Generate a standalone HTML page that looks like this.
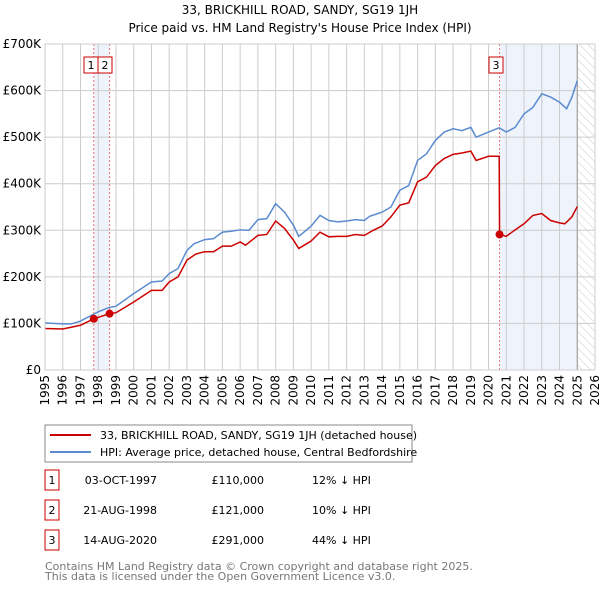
<!DOCTYPE html>
<html><head><meta charset="utf-8"><style>
body{margin:0;background:#fff;font-family:"DejaVu Sans","Liberation Sans",sans-serif;}
#wrap{position:relative;width:600px;height:590px;overflow:hidden}
</style></head><body>
<div id="wrap">
<svg id="svg" width="600" height="590" xmlns="http://www.w3.org/2000/svg" font-family="DejaVu Sans, Liberation Sans, sans-serif">
<defs><pattern id="hatch" width="6" height="6" patternUnits="userSpaceOnUse" patternTransform="rotate(-45)"><line x1="0" y1="0" x2="0" y2="6" stroke="#ccc" stroke-width="1"/></pattern></defs>
<text x="300" y="14" text-anchor="middle" font-size="12">33, BRICKHILL ROAD, SANDY, SG19 1JH</text>
<text x="300" y="32" text-anchor="middle" font-size="12">Price paid vs. HM Land Registry's House Price Index (HPI)</text>
<g id="grid"></g><g id="marks"></g><g id="axes"></g>
<rect x="45" y="425" width="367" height="37" fill="#fff" stroke="#888"/>
<line x1="50" y1="435" x2="91" y2="435" stroke="#cc0000" stroke-width="2"/>
<text x="100" y="439" font-size="11">33, BRICKHILL ROAD, SANDY, SG19 1JH (detached house)</text>
<line x1="50" y1="452" x2="91" y2="452" stroke="#5b8bd0" stroke-width="2"/>
<text x="100" y="456" font-size="11">HPI: Average price, detached house, Central Bedfordshire</text>
<g id="table" font-size="11"></g>
<text x="45" y="570" font-size="11" fill="#777">Contains HM Land Registry data © Crown copyright and database right 2025.</text>
<text x="45" y="580" font-size="11" fill="#777">This data is licensed under the Open Government Licence v3.0.</text>
</svg></div>
<script>
const hpiYears=[1995,1996,1996.5,1997,1998,1998.6,1999,2000,2001,2001.6,2002,2002.5,2003,2003.4,2004,2004.5,2005,2005.5,2006,2006.5,2007,2007.5,2008,2008.5,2009,2009.3,2009.5,2010,2010.5,2011,2011.5,2012,2012.5,2013,2013.3,2014,2014.5,2015,2015.5,2016,2016.5,2017,2017.5,2018,2018.5,2019,2019.3,2020,2020.6,2021,2021.5,2022,2022.5,2023,2023.5,2024,2024.4,2024.7,2025];
const hpiValues=[101,99,99,105,125,134,137,164,189,191,207,218,257,271,280,282,296,298,301,300,323,325,357,339,311,287,293,309,332,321,318,320,323,321,330,339,350,386,396,450,464,493,511,518,514,521,500,511,520,511,521,550,564,593,586,575,561,586,621];
const priceYears=[1995,1996,1997,1997.75,1998.64,1999,2000,2001,2001.6,2002,2002.5,2003,2003.5,2004,2004.5,2005,2005.5,2006,2006.3,2007,2007.5,2008,2008.5,2009,2009.3,2010,2010.5,2011,2011.5,2012,2012.5,2013,2013.5,2014,2014.5,2015,2015.5,2016,2016.5,2017,2017.5,2018,2018.5,2019,2019.3,2020,2020.6,2020.62,2021,2021.5,2022,2022.5,2023,2023.5,2024,2024.3,2024.7,2025];
const priceValues=[89,88,96,110,121,123,146,171,171,189,200,236,249,254,254,266,266,275,268,289,291,320,304,279,261,277,296,286,287,287,291,289,300,309,329,354,359,404,414,439,454,463,466,470,450,459,459,291,287,301,314,332,336,321,316,314,329,351];
const saleLabels=["1","2","3"];
const saleYears=[1997.75,1998.64,2020.62];
const saleValues=[110,121,291];
const saleDates=["03-OCT-1997","21-AUG-1998","14-AUG-2020"];
const salePrices=["£110,000","£121,000","£291,000"];
const saleDiffs=["12% ↓ HPI","10% ↓ HPI","44% ↓ HPI"];
const yTicks=[0,100,200,300,400,500,600,700];
const yTickLabels=["£0","£100K","£200K","£300K","£400K","£500K","£600K","£700K"];
const xTicks=[1995,1996,1997,1998,1999,2000,2001,2002,2003,2004,2005,2006,2007,2008,2009,2010,2011,2012,2013,2014,2015,2016,2017,2018,2019,2020,2021,2022,2023,2024,2025,2026];

const X0=45,X1=595,Y0=370,Y1=44;
const x=v=>X0+(v-1995)/(2026-1995)*(X1-X0);
const y=v=>Y0-v/700*(Y0-Y1);
const NS="http://www.w3.org/2000/svg";
function mk(parent,tag,attrs){const e=document.createElementNS(NS,tag);for(const k in attrs)e.setAttribute(k,attrs[k]);document.getElementById(parent).appendChild(e);return e;}

let e;
e=mk('grid','rect',{x:x(saleYears[0]),y:Y1,width:x(saleYears[1])-x(saleYears[0]),height:Y0-Y1,fill:'#eef3fc'});


e=mk('grid','rect',{x:x(saleYears[2]),y:Y1,width:x(2025)-x(saleYears[2]),height:Y0-Y1,fill:'#eef3fc'});


e=mk('grid','rect',{x:x(2025),y:Y1,width:X1-x(2025),height:Y0-Y1,fill:'url(#hatch)'});


xTicks.forEach((t,i)=>{
  e=mk('grid','line',{x1:x(t),x2:x(t),y1:Y1,y2:Y0,stroke:'#ccc','stroke-width':1});
  
  
  e=mk('axes','text',{x:0,y:0,'font-size':12,'text-anchor':'end',transform:`translate(${x(t)+4},${Y0+5}) rotate(-90)`});
  e.textContent=t;
  
  
});
yTicks.forEach((t,i)=>{
  e=mk('grid','line',{x1:X0,x2:X1,y1:y(t),y2:y(t),stroke:'#ccc','stroke-width':1});
  
  
  e=mk('axes','text',{x:X0-4,y:y(t)+4,'font-size':12,'text-anchor':'end'});
  e.textContent=yTickLabels[i];
  
  
});
e=mk('grid','line',{x1:x(2025),x2:x(2025),y1:Y1,y2:Y0,stroke:'#999','stroke-width':1});


saleYears.forEach((s,i)=>{
  e=mk('marks','line',{x1:x(s),x2:x(s),y1:Y1,y2:Y0,stroke:'#f07070','stroke-width':1,'stroke-dasharray':'2,2'});
  
  
});
e=mk('marks','polyline',{points:hpiYears.map((v,i)=>x(v)+','+y(hpiValues[i])).join(' '),fill:'none',stroke:'#5b8bd0','stroke-width':1.5});


e=mk('marks','polyline',{points:priceYears.map((v,i)=>x(v)+','+y(priceValues[i])).join(' '),fill:'none',stroke:'#cc0000','stroke-width':1.5});


saleYears.forEach((s,i)=>{
  e=mk('marks','circle',{cx:x(s),cy:y(saleValues[i]),r:4,fill:'#cc0000'});
  
  
});
[[84,'1'],[98,'2'],[489,'3']].forEach((b,i)=>{
  e=mk('marks','rect',{x:b[0],y:57,width:14,height:16,fill:'#fff',stroke:'#cc0000'});
  
  
  e=mk('marks','text',{x:b[0]+7,y:69,'font-size':11,'text-anchor':'middle'});
  e.textContent=saleLabels[i];
  
  
});
e=mk('axes','rect',{x:X0,y:Y1,width:X1-X0,height:Y0-Y1,fill:'none',stroke:'#ccc'});


saleLabels.forEach((l,i)=>{
  const ry=483+i*30;
  e=mk('table','rect',{x:45,y:ry-13,width:14,height:20,fill:'none',stroke:'#cc0000'});
  
  
  e=mk('table','text',{x:52,y:ry+1,'text-anchor':'middle'});e.textContent=l;
  
  
  e=mk('table','text',{x:157,y:ry+1,'text-anchor':'end'});e.textContent=saleDates[i];
  
  
  e=mk('table','text',{x:264,y:ry+1,'text-anchor':'end'});e.textContent=salePrices[i];
  
  
  e=mk('table','text',{x:312,y:ry+1});e.textContent=saleDiffs[i];
  
  
});
</script>
</body></html>
